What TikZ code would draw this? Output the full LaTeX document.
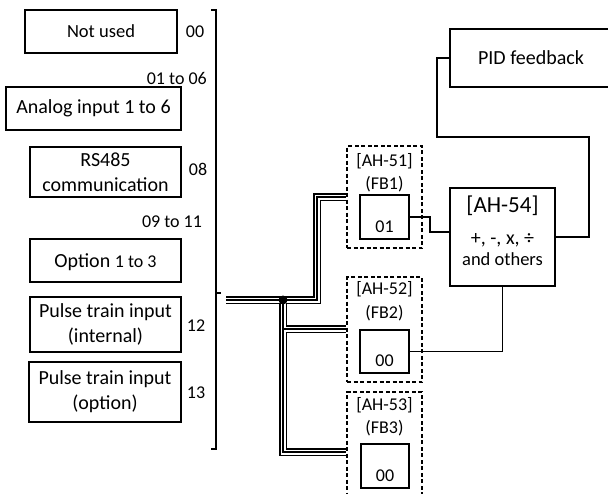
\documentclass[tikz,border=0pt]{standalone}
\usepackage{fontspec}
\setmainfont{Carlito}
\usetikzlibrary{backgrounds}
\newcommand\fsS{\fontsize{18}{22}\selectfont}
\newcommand\fsM{\fontsize{18.5}{22}\selectfont}
\newcommand\fsB{\fontsize{20}{25}\selectfont}
\newcommand\fsL{\fontsize{23}{27}\selectfont}
\begin{document}
\begin{tikzpicture}[x=1pt,y=-1pt,
  box/.style={draw, line width=1.8pt, inner sep=0pt, align=center, font=\fsB},
  dbox/.style={draw, line width=1.4pt, dash pattern=on 4pt off 2.5pt, inner sep=0pt},
  ibox/.style={draw, line width=1.8pt, inner sep=0pt, minimum width=49pt, minimum height=44pt, text height=30pt, text depth=0pt, font=\fsS},
  lbl/.style={inner sep=0pt, font=\fsS},
  conn/.style={line width=1.8pt}]
\useasboundingbox (0,0) rectangle (608,493);
% left boxes
\node[box, minimum width=152pt, minimum height=43pt, font=\fsM] (nu) at (101,31.5) {Not used};
\node[box, minimum width=175pt, minimum height=43pt] (an) at (93.5,108.5) {Analog input 1 to 6};
\node[box, minimum width=151pt, minimum height=50pt] (rs) at (105.5,172) {RS485\\communication};
\node[box, minimum width=151pt, minimum height=43pt, text height=17pt] (op) at (105.5,260.5) {Option {\fsS 1 to 3}};
\node[box, minimum width=151pt, minimum height=55pt] (pi) at (105.5,324.5) {Pulse train input\\(internal)};
\node[box, minimum width=152pt, minimum height=60pt] (po) at (105,392) {Pulse train input\\(option)};
% numbers
\node[lbl] (l00) at (195,32) {00};
\node[lbl, anchor=east] (l01) at (207,78) {01 to 06};
\node[lbl] (l08) at (198,169) {08};
\node[lbl] (l09) at (172,222) {09 to 11};
\node[lbl] (l12) at (196,326) {12};
\node[lbl] (l13) at (196,393) {13};
% bracket
\draw[line width=1.8pt] (211,10) -- (216,10) -- (216,449) -- (211,449) (216,293) -- (221,293);
% function blocks
\node[dbox, minimum width=75pt, minimum height=102pt] (fb1) at (384.5,197) {};
\node[dbox, minimum width=75pt, minimum height=105pt] (fb2) at (384.5,329.5) {};
\node[dbox, minimum width=75pt, minimum height=120pt] (fb3) at (384.5,452) {};
\node[lbl, anchor=base] (t1a) at (384.5,166) {[AH-51]};
\node[lbl, anchor=base] (t1b) at (384.5,189) {(FB1)};
\node[lbl, anchor=base] (t2a) at (384.5,294) {[AH-52]};
\node[lbl, anchor=base] (t2b) at (384.5,318) {(FB2)};
\node[lbl, anchor=base] (t3a) at (384.5,410) {[AH-53]};
\node[lbl, anchor=base] (t3b) at (384.5,433) {(FB3)};
\node[ibox] (fb1in) at (384.5,217) {01};
\node[ibox, minimum height=43pt] (fb2in) at (384.5,351.5) {00};
\node[ibox, minimum width=48pt] (fb3in) at (385,466) {00};
% AH-54
\node[box, minimum width=105pt, minimum height=98pt] (ah) at (502.5,237) {};
\node[inner sep=0pt, anchor=base, font=\fsL] (ah1) at (502.5,212) {[AH-54]};
\node[inner sep=0pt, anchor=base, font=\fsB] (ah2) at (502.5,244) {+, -, x, ÷};
\node[inner sep=0pt, anchor=base, font=\fsM] (ah3) at (502.5,265) {and others};
% PID
\node[box, minimum width=162pt, minimum height=58pt] (pid) at (531,58) {PID feedback};
% bus
\coordinate (b0) at (226,300);
\coordinate (dot) at (283,300);
\coordinate (b1) at (317,300);
\coordinate (b2) at (317,197);
\coordinate (b3) at (283,329);
\coordinate (b4) at (283,452);
\begin{scope}[on background layer]
\foreach \w/\c in {7.5/black,5/white,1.3/black}
  \draw[line width=\w pt, draw=\c, line join=miter] (b0) -- (b1) -- (b2) -- (b2 -| fb1.west)
    (dot) -- (b4) -- (b4 -| fb3.west) (b3) -- (b3 -| fb2.west);
\end{scope}
\fill (dot) circle (4.5);
% connectors
\coordinate (k1) at (430,232);
\coordinate (k2) at (589,137);
\coordinate (k3) at (437,58);
\draw[conn] (fb1in.east) -| (k1) -- (k1 -| ah.west);
\draw[conn] (fb2in.east) -| (ah.south);
\draw[conn] (ah.east) -| (k2) -| (k3) -- (pid.west);
\end{tikzpicture}
\end{document}
